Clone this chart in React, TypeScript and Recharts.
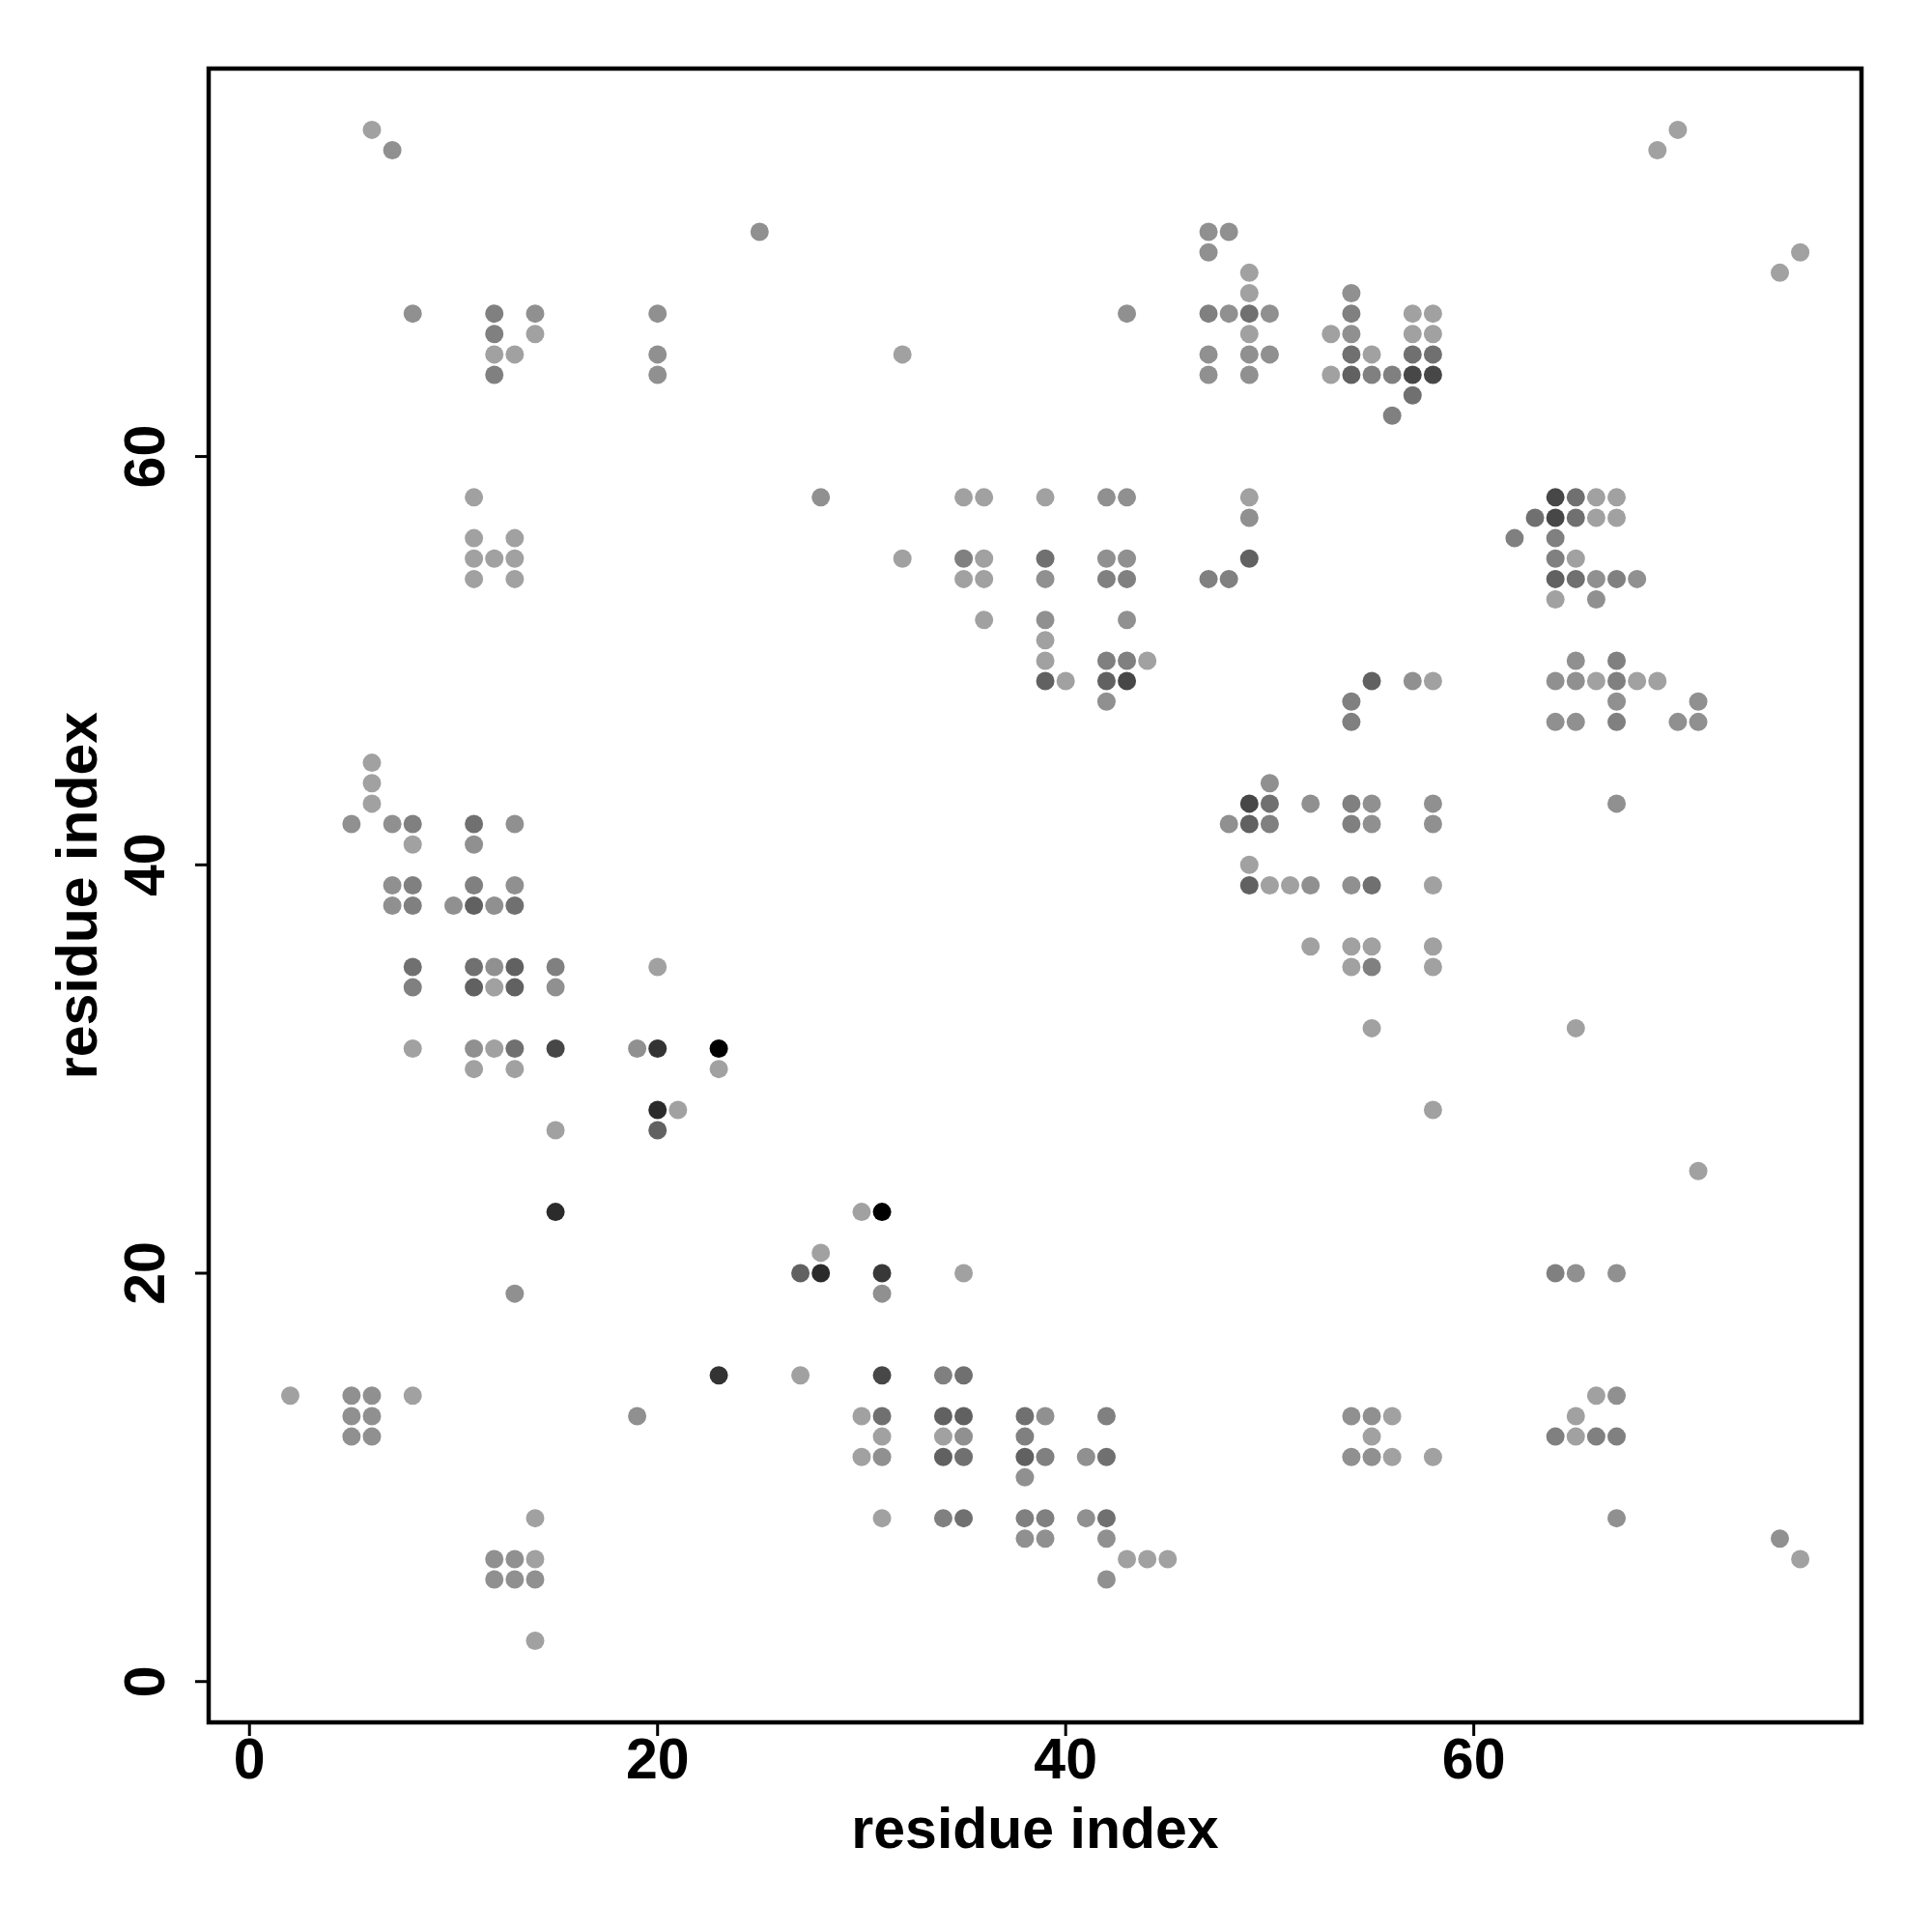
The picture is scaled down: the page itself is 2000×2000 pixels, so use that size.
import React from 'react';
import { ScatterChart, Scatter, XAxis, YAxis, ReferenceArea } from 'recharts';

// Axis ticks and titles
const xTicks = [0, 20, 40, 60];
const yTicks = [0, 20, 40, 60];
const xTitle = 'residue index';
const yTitle = 'residue index';
const axisDomain: [number, number] = [-2, 79];

// Contacts: [residue i, residue j, score] (score drives the grey level)
const contactsTop: [number, number, number][] = [
  [6, 76, 0.37], [70, 76, 0.37],
  [7, 75, 0.435], [69, 75, 0.37],
  [25, 71, 0.435], [47, 71, 0.435], [48, 71, 0.435],
  [47, 70, 0.435], [76, 70, 0.37],
  [49, 69, 0.37], [75, 69, 0.37],
  [49, 68, 0.37], [54, 68, 0.435],
  [8, 67, 0.435], [12, 67, 0.5], [14, 67, 0.435], [20, 67, 0.435], [43, 67, 0.435], [47, 67, 0.5],
  [48, 67, 0.435], [49, 67, 0.56], [50, 67, 0.435], [54, 67, 0.5], [57, 67, 0.37], [58, 67, 0.37],
  [12, 66, 0.5], [14, 66, 0.37], [49, 66, 0.37], [53, 66, 0.37], [54, 66, 0.435], [57, 66, 0.37], [58, 66, 0.37],
  [12, 65, 0.37], [13, 65, 0.37], [20, 65, 0.435], [32, 65, 0.37], [47, 65, 0.435], [49, 65, 0.435],
  [50, 65, 0.435], [54, 65, 0.56], [55, 65, 0.37], [57, 65, 0.56], [58, 65, 0.56],
  [12, 64, 0.5], [20, 64, 0.435], [47, 64, 0.435], [49, 64, 0.435], [53, 64, 0.37], [54, 64, 0.62],
  [55, 64, 0.5], [56, 64, 0.5], [57, 64, 0.72], [58, 64, 0.72],
  [57, 63, 0.56],
  [56, 62, 0.5],
];

const contactsUpperMid: [number, number, number][] = [
  [11, 58, 0.37], [28, 58, 0.435], [35, 58, 0.37], [36, 58, 0.37], [39, 58, 0.37], [42, 58, 0.435],
  [43, 58, 0.435], [49, 58, 0.37], [64, 58, 0.72], [65, 58, 0.56], [66, 58, 0.37], [67, 58, 0.37],
  [49, 57, 0.435], [63, 57, 0.56], [64, 57, 0.72], [65, 57, 0.56], [66, 57, 0.37], [67, 57, 0.37],
  [11, 56, 0.37], [13, 56, 0.37], [62, 56, 0.5], [64, 56, 0.5],
  [11, 55, 0.37], [12, 55, 0.37], [13, 55, 0.37], [32, 55, 0.37], [35, 55, 0.5], [36, 55, 0.37],
  [39, 55, 0.56], [42, 55, 0.435], [43, 55, 0.435], [49, 55, 0.62], [64, 55, 0.5], [65, 55, 0.37],
  [11, 54, 0.37], [13, 54, 0.37], [35, 54, 0.37], [36, 54, 0.37], [39, 54, 0.435], [42, 54, 0.5],
  [43, 54, 0.5], [47, 54, 0.5], [48, 54, 0.5], [64, 54, 0.62], [65, 54, 0.56], [66, 54, 0.435],
  [67, 54, 0.5], [68, 54, 0.435],
  [64, 53, 0.37], [66, 53, 0.435],
  [36, 52, 0.37], [39, 52, 0.435], [43, 52, 0.435],
  [39, 51, 0.37],
  [39, 50, 0.37], [42, 50, 0.5], [43, 50, 0.5], [44, 50, 0.37], [65, 50, 0.435], [67, 50, 0.5],
  [39, 49, 0.62], [40, 49, 0.37], [42, 49, 0.62], [43, 49, 0.72], [55, 49, 0.62], [57, 49, 0.435],
  [58, 49, 0.37], [64, 49, 0.435], [65, 49, 0.435], [66, 49, 0.37], [67, 49, 0.5], [68, 49, 0.37], [69, 49, 0.37],
  [42, 48, 0.435], [54, 48, 0.5], [67, 48, 0.435], [71, 48, 0.435],
  [54, 47, 0.5], [64, 47, 0.435], [65, 47, 0.435], [67, 47, 0.5], [70, 47, 0.435], [71, 47, 0.435],
];

const contactsLowerMid: [number, number, number][] = [
  [6, 45, 0.37],
  [6, 44, 0.37], [50, 44, 0.435],
  [6, 43, 0.37], [49, 43, 0.72], [50, 43, 0.56], [52, 43, 0.435], [54, 43, 0.5], [55, 43, 0.435],
  [58, 43, 0.435], [67, 43, 0.435],
  [5, 42, 0.435], [7, 42, 0.435], [8, 42, 0.5], [11, 42, 0.56], [13, 42, 0.435], [48, 42, 0.435],
  [49, 42, 0.62], [50, 42, 0.5], [54, 42, 0.5], [55, 42, 0.435], [58, 42, 0.435],
  [8, 41, 0.37], [11, 41, 0.435],
  [49, 40, 0.37],
  [7, 39, 0.435], [8, 39, 0.5], [11, 39, 0.5], [13, 39, 0.435], [49, 39, 0.62], [50, 39, 0.37],
  [51, 39, 0.37], [52, 39, 0.435], [54, 39, 0.435], [55, 39, 0.56], [58, 39, 0.37],
  [7, 38, 0.435], [8, 38, 0.5], [10, 38, 0.435], [11, 38, 0.62], [12, 38, 0.435], [13, 38, 0.56],
  [52, 36, 0.37], [54, 36, 0.37], [55, 36, 0.37], [58, 36, 0.37],
  [8, 35, 0.56], [11, 35, 0.56], [12, 35, 0.435], [13, 35, 0.62], [15, 35, 0.5], [20, 35, 0.37],
  [54, 35, 0.37], [55, 35, 0.5], [58, 35, 0.37],
  [8, 34, 0.5], [11, 34, 0.62], [12, 34, 0.37], [13, 34, 0.62], [15, 34, 0.435],
  [55, 32, 0.37], [65, 32, 0.37],
  [8, 31, 0.37], [11, 31, 0.435], [12, 31, 0.37], [13, 31, 0.56], [15, 31, 0.72], [19, 31, 0.435],
  [20, 31, 0.8], [23, 31, 1],
  [11, 30, 0.37], [13, 30, 0.37], [23, 30, 0.37],
  [20, 28, 0.83], [21, 28, 0.37], [58, 28, 0.37],
  [15, 27, 0.37], [20, 27, 0.62],
  [71, 25, 0.37],
];

const contactsBottom: [number, number, number][] = [
  [15, 23, 0.83], [30, 23, 0.37], [31, 23, 1],
  [28, 21, 0.37],
  [27, 20, 0.62], [28, 20, 0.83], [31, 20, 0.78], [35, 20, 0.37], [64, 20, 0.5], [65, 20, 0.435], [67, 20, 0.435],
  [13, 19, 0.435], [31, 19, 0.435],
  [23, 15, 0.8], [27, 15, 0.37], [31, 15, 0.72], [34, 15, 0.5], [35, 15, 0.56],
  [2, 14, 0.37], [5, 14, 0.435], [6, 14, 0.435], [8, 14, 0.37], [66, 14, 0.37], [67, 14, 0.435],
  [5, 13, 0.435], [6, 13, 0.435], [19, 13, 0.435], [30, 13, 0.37], [31, 13, 0.56], [34, 13, 0.62],
  [35, 13, 0.62], [38, 13, 0.56], [39, 13, 0.435], [42, 13, 0.5], [54, 13, 0.435], [55, 13, 0.435],
  [56, 13, 0.37], [65, 13, 0.37],
  [5, 12, 0.435], [6, 12, 0.435], [31, 12, 0.37], [34, 12, 0.37], [35, 12, 0.435], [38, 12, 0.5],
  [55, 12, 0.37], [64, 12, 0.5], [65, 12, 0.37], [66, 12, 0.5], [67, 12, 0.5],
  [30, 11, 0.37], [31, 11, 0.435], [34, 11, 0.62], [35, 11, 0.56], [38, 11, 0.62], [39, 11, 0.5],
  [41, 11, 0.435], [42, 11, 0.56], [54, 11, 0.435], [55, 11, 0.435], [56, 11, 0.37], [58, 11, 0.37],
  [38, 10, 0.435],
  [14, 8, 0.37], [31, 8, 0.37], [34, 8, 0.5], [35, 8, 0.56], [38, 8, 0.5], [39, 8, 0.5], [41, 8, 0.435],
  [42, 8, 0.56], [67, 8, 0.435],
  [38, 7, 0.435], [39, 7, 0.435], [42, 7, 0.435], [75, 7, 0.435],
  [12, 6, 0.435], [13, 6, 0.435], [14, 6, 0.37], [43, 6, 0.37], [44, 6, 0.37], [45, 6, 0.37], [76, 6, 0.37],
  [12, 5, 0.435], [13, 5, 0.435], [14, 5, 0.435], [42, 5, 0.435],
  [14, 2, 0.37],
];

const data = [...contactsTop, ...contactsUpperMid, ...contactsLowerMid, ...contactsBottom].map(
  ([i, j, s]) => ({ i, j, s })
);

const FONT = '"Liberation Sans", Arial, Helvetica, sans-serif';
const FONT_SIZE = 59;

const grey = (s: number) => {
  const g = Math.round(255 * (1 - s));
  return `rgb(${g},${g},${g})`;
};

const Dot = (props: any) => {
  const { cx, cy, payload } = props;
  if (cx == null || cy == null) return null;
  return <circle cx={cx} cy={cy} r={9.5} fill={grey(payload.s)} />;
};

const XTick = (props: any) => {
  const { x, y, payload } = props;
  return (
    <text x={x} y={y} dy="0.71em" textAnchor="middle" fontFamily={FONT} fontWeight="bold" fontSize={FONT_SIZE} fill="#000">
      {payload.value}
    </text>
  );
};

const YTick = (props: any) => {
  const { x, y, payload } = props;
  return (
    <text transform={`translate(${x - 30},${y}) rotate(-90)`} textAnchor="middle" fontFamily={FONT} fontWeight="bold" fontSize={FONT_SIZE} fill="#000">
      {payload.value}
    </text>
  );
};

const XLabel = (props: any) => {
  const vb = props.viewBox || {};
  return (
    <text x={vb.x + vb.width / 2} y={vb.y + 130} textAnchor="middle" fontFamily={FONT} fontWeight="bold" fontSize={FONT_SIZE} fill="#000">
      {xTitle}
    </text>
  );
};

const YLabel = (props: any) => {
  const vb = props.viewBox || {};
  return (
    <text transform={`translate(${vb.x + 100},${vb.y + vb.height / 2}) rotate(-90)`} textAnchor="middle" fontFamily={FONT} fontWeight="bold" fontSize={FONT_SIZE} fill="#000">
      {yTitle}
    </text>
  );
};

export default function App() {
  return (
    <div style={{ position: 'absolute', left: 0, top: 0, width: 2000, height: 2000, background: '#fff' }}>
      <ScatterChart width={2000} height={2000} margin={{ top: 71, right: 73, bottom: 0, left: 0 }}>
        <XAxis
          type="number"
          dataKey="i"
          domain={axisDomain}
          ticks={xTicks}
          allowDataOverflow
          axisLine={false}
          tickLine={{ stroke: '#000', strokeWidth: 3 }}
          tickSize={14}
          tickMargin={2}
          height={217}
          tick={<XTick />}
          label={{ content: <XLabel /> }}
        />
        <YAxis
          type="number"
          dataKey="j"
          domain={axisDomain}
          ticks={yTicks}
          allowDataOverflow
          axisLine={false}
          tickLine={{ stroke: '#000', strokeWidth: 3 }}
          tickSize={14}
          tickMargin={2}
          width={216}
          tick={<YTick />}
          label={{ content: <YLabel /> }}
        />
        <ReferenceArea x1={-2} x2={79} y1={-2} y2={79} fill="none" fillOpacity={0} stroke="#000" strokeWidth={4.5} ifOverflow="visible" />
        <Scatter data={data} isAnimationActive={false} shape={(p: any) => <Dot {...p} />} />
      </ScatterChart>
    </div>
  );
}
